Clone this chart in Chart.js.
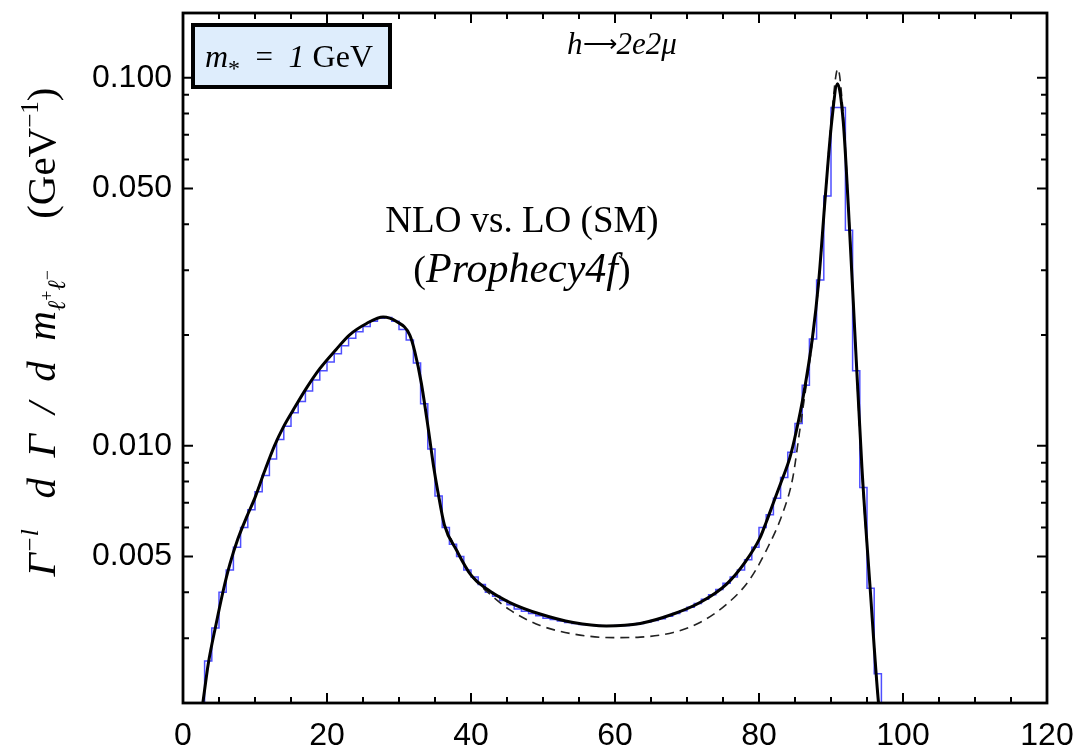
<!DOCTYPE html>
<html>
<head>
<meta charset="utf-8">
<script src="https://cdn.jsdelivr.net/npm/chart.js@4.4.0/dist/chart.umd.min.js"></script>
<style>
  html, body { margin: 0; padding: 0; background: #fff; }
  #wrap { width: 1079px; height: 749px; }
</style>
</head>
<body>
<div id="wrap"><canvas id="chart" width="1079" height="749"></canvas></div>
<script>
// NLO curve (solid black)
const nloX = [2.6, 3, 3.5, 4.6, 5.6, 6.5, 7.6, 8.8, 10, 11.3, 12.7, 13.9, 15.3, 17.1, 19, 21.3, 23.1, 25.5, 27.8, 29.6,
              31.5, 32.2, 33.1, 34.1, 34.8, 35.4, 36.3, 38, 39.9, 42.2, 45.4, 49.6, 54.2, 58.8, 63.5, 68.1, 71.8, 75.5, 78.2,
              80.1, 81, 82, 83, 84.3, 85.2, 86.2, 87.4, 88.3, 89.2, 90.1, 90.9, 91.7, 92.4, 93.3, 94.3, 95.4, 96.6, 96.9];
const nloY = [0.0019, 0.00217, 0.00255, 0.00328, 0.00405, 0.00476, 0.00557, 0.00638, 0.00723, 0.0085, 0.0100, 0.0112, 0.0125, 0.0143, 0.0162, 0.0183, 0.0200, 0.0215, 0.0224, 0.0218,
              0.0200, 0.0180, 0.0148, 0.0110, 0.0088, 0.0075, 0.0061, 0.0052, 0.00448, 0.00408, 0.00375, 0.00349, 0.00331, 0.00324, 0.00329, 0.00349, 0.00375, 0.00421, 0.00487,
              0.0056, 0.0062, 0.0070, 0.0079, 0.0093, 0.0110, 0.0138, 0.0195, 0.0281, 0.0474, 0.0760, 0.0963, 0.0760, 0.0450, 0.0205, 0.0087, 0.0042, 0.0020, 0.0018];

// LO curve (dashed), visible where it leaves the NLO curve
const loX = [36.3, 38, 39.9, 42.2, 45.4, 49.6, 54.2, 59.8, 63.5, 68.1, 71.8, 75.5, 78.6, 81, 83.4, 84.7, 85.6, 86.6, 87.4, 88.3,
             89.2, 90.1, 90.95, 91.7, 92.4, 93.3, 94.3, 95.4, 96.6, 96.9];
const loY = [0.0061, 0.0052, 0.00447, 0.00402, 0.00358, 0.00325, 0.00308, 0.00301, 0.00302, 0.00311, 0.00331, 0.00371, 0.0043, 0.00519, 0.00665, 0.0082, 0.0108, 0.0148, 0.0192, 0.0278,
             0.0470, 0.0790, 0.1058, 0.0790, 0.0455, 0.0205, 0.0085, 0.0042, 0.0020, 0.0018];

// Histogram, 1 GeV bins starting at histStart
const histStart = 2;
const histVals = [0.0016, 0.0026, 0.0032, 0.0040, 0.0046, 0.0053, 0.0060, 0.0067, 0.0075, 0.0083,
                  0.0092, 0.0104, 0.0113, 0.0123, 0.0132, 0.0141, 0.0151, 0.0160, 0.0169, 0.0178,
                  0.0187, 0.0196, 0.0204, 0.0211, 0.0218, 0.0222, 0.0223, 0.0218, 0.0207, 0.0194,
                  0.0168, 0.0130, 0.0098, 0.0073, 0.0060, 0.0054, 0.0050, 0.0046, 0.0044, 0.0042,
                  0.0040, 0.0039, 0.0038, 0.0037, 0.0036, 0.00355, 0.0035, 0.00345, 0.0034, 0.00337,
                  0.00334, 0.00331, 0.00329, 0.00327, 0.00326, 0.00325, 0.00324, 0.00324, 0.00325, 0.00325,
                  0.00327, 0.00329, 0.00332, 0.00335, 0.00339, 0.00344, 0.0035, 0.00356, 0.00364, 0.00373,
                  0.00383, 0.00394, 0.00407, 0.00423, 0.0044, 0.0046, 0.0049, 0.0053, 0.0060, 0.0065,
                  0.0072, 0.0082, 0.0096, 0.0115, 0.0146, 0.0195, 0.0282, 0.0477, 0.0830, 0.0830,
                  0.0385, 0.0160, 0.0077, 0.0041, 0.0024];
const histFloor = 0.0015;

// Axes
const xMin = 0, xMax = 120, xMajorStep = 20, xMinorStep = 5;
const yMin = 0.002, yMax = 0.15;
const yMajorTicks = [0.005, 0.01, 0.05, 0.1];
const yMinorTicks = [0.002, 0.003, 0.004, 0.006, 0.007, 0.008, 0.009, 0.02, 0.03, 0.04, 0.06, 0.07, 0.08, 0.09];

const serif = '"Liberation Serif", "Times New Roman", serif';
const sans = '"Liberation Sans", Arial, sans-serif';

const zip = (xs, ys) => xs.map((x, i) => ({ x: x, y: ys[i] }));
const histData = histVals.map((v, i) => ({ x: histStart + i, y: v }));
histData.push({ x: histStart + histVals.length, y: histFloor });

// draw a run of text pieces [text, font, dy] starting at x
function drawRich(ctx, parts, x, y, align) {
    let w = 0;
    parts.forEach(p => { ctx.font = p[1]; w += ctx.measureText(p[0]).width; });
    let cx = align === 'center' ? x - w / 2 : x;
    parts.forEach(p => {
        ctx.font = p[1];
        ctx.fillText(p[0], cx, y + (p[2] || 0));
        cx += ctx.measureText(p[0]).width;
    });
}

const framePlugin = {
    id: 'frame',
    afterDatasetsDraw(chart) {
        const ctx = chart.ctx, a = chart.chartArea;
        const xs = chart.scales.x, ys = chart.scales.y;
        ctx.save();
        ctx.strokeStyle = '#000';
        ctx.lineWidth = 2.8;
        ctx.strokeRect(a.left, a.top, a.right - a.left, a.bottom - a.top);
        ctx.lineWidth = 2;
        ctx.beginPath();
        for (let v = xMin; v <= xMax; v += xMinorStep) {
            const px = xs.getPixelForValue(v);
            const len = v % xMajorStep === 0 ? 10 : 6;
            ctx.moveTo(px, a.bottom); ctx.lineTo(px, a.bottom - len);
            ctx.moveTo(px, a.top); ctx.lineTo(px, a.top + len);
        }
        yMajorTicks.concat(yMinorTicks).forEach(v => {
            const py = ys.getPixelForValue(v);
            const len = yMajorTicks.includes(v) ? 10 : 6;
            ctx.moveTo(a.left, py); ctx.lineTo(a.left + len, py);
            ctx.moveTo(a.right, py); ctx.lineTo(a.right - len, py);
        });
        ctx.stroke();
        ctx.restore();
    },
    afterDraw(chart) {
        const ctx = chart.ctx;
        ctx.save();
        ctx.fillStyle = '#000';
        ctx.textBaseline = 'alphabetic';

        // m* box
        ctx.fillStyle = '#deedfc';
        ctx.fillRect(193, 25, 197, 62);
        ctx.strokeStyle = '#000';
        ctx.lineWidth = 4;
        ctx.strokeRect(193, 25, 197, 62);
        ctx.fillStyle = '#000';
        drawRich(ctx, [
            ['m', 'italic 32px ' + serif, 0],
            ['*', '24px ' + serif, 9],
            ['  =  ', '31px ' + serif, 0],
            ['1', 'italic 32px ' + serif, 0],
            [' GeV', '32px ' + serif, 0]
        ], 289, 67, 'center');

        // process label
        drawRich(ctx, [
            ['h', 'italic 31px ' + serif, 0],
            ['\u27F6', '24px ' + serif, -2],
            ['2e2\u03bc', 'italic 31px ' + serif, 0]
        ], 622, 54, 'center');

        // comparison labels
        drawRich(ctx, [['NLO vs. LO (SM)', '37px ' + serif, 0]], 522, 232, 'center');
        drawRich(ctx, [
            ['(', '38px ' + serif, 0],
            ['Prophecy4f', 'italic 42px ' + serif, 0],
            [')', '38px ' + serif, 0]
        ], 522, 282, 'center');

        // rotated y axis title
        ctx.translate(55, 332);
        ctx.rotate(-Math.PI / 2);
        drawRich(ctx, [
            ['\u0393', 'italic 41px ' + serif, 0],
            ['\u2212l', 'italic 25px ' + serif, -17],
            ['   d  \u0393  /  d  m', 'italic 41px ' + serif, 0],
            ['\u2113', 'italic 25px ' + serif, 10],
            ['+', '18px ' + serif, -2],
            ['\u2113', 'italic 25px ' + serif, 10],
            ['\u2212', '18px ' + serif, -2],
            ['     (GeV', '41px ' + serif, 0],
            ['\u22121', '25px ' + serif, -17],
            [')', '41px ' + serif, 0]
        ], 0, 0, 'center');
        ctx.restore();
    }
};

new Chart(document.getElementById('chart').getContext('2d'), {
    type: 'scatter',
    data: {
        datasets: [
            {
                label: 'NLO',
                data: zip(nloX, nloY),
                showLine: true,
                borderColor: '#000',
                borderWidth: 3,
                pointRadius: 0,
                cubicInterpolationMode: 'monotone',
                clip: 0,
                order: 1
            },
            {
                label: 'LO',
                data: zip(loX, loY),
                showLine: true,
                borderColor: '#222',
                borderWidth: 1.6,
                borderDash: [9, 6],
                pointRadius: 0,
                cubicInterpolationMode: 'monotone',
                clip: 0,
                order: 2
            },
            {
                label: 'histogram',
                data: histData,
                showLine: true,
                stepped: true,
                borderColor: 'rgba(60, 60, 255, 0.9)',
                borderWidth: 1.5,
                pointRadius: 0,
                clip: 0,
                order: 3
            }
        ]
    },
    options: {
        responsive: false,
        animation: false,
        devicePixelRatio: 1,
        layout: { padding: { left: 0, top: 13, right: 32, bottom: 0 } },
        plugins: {
            legend: { display: false },
            tooltip: { enabled: false }
        },
        scales: {
            x: {
                type: 'linear',
                min: xMin,
                max: xMax,
                grid: { display: false, drawTicks: false },
                border: { display: false },
                ticks: {
                    stepSize: xMajorStep,
                    color: '#000',
                    font: { family: sans, size: 32 },
                    padding: 14,
                    maxRotation: 0
                },
                afterFit: s => { s.height = 46; s.paddingLeft = 0; s.paddingRight = 0; }
            },
            y: {
                type: 'logarithmic',
                min: yMin,
                max: yMax,
                grid: { display: false, drawTicks: false },
                border: { display: false },
                ticks: {
                    color: '#000',
                    font: { family: sans, size: 32 },
                    padding: 11,
                    callback: v => Number(v).toFixed(3)
                },
                afterBuildTicks: s => { s.ticks = yMajorTicks.map(v => ({ value: v })); },
                afterFit: s => { s.width = 183; s.paddingTop = 0; s.paddingBottom = 0; }
            }
        }
    },
    plugins: [framePlugin]
});
</script>
</body>
</html>
